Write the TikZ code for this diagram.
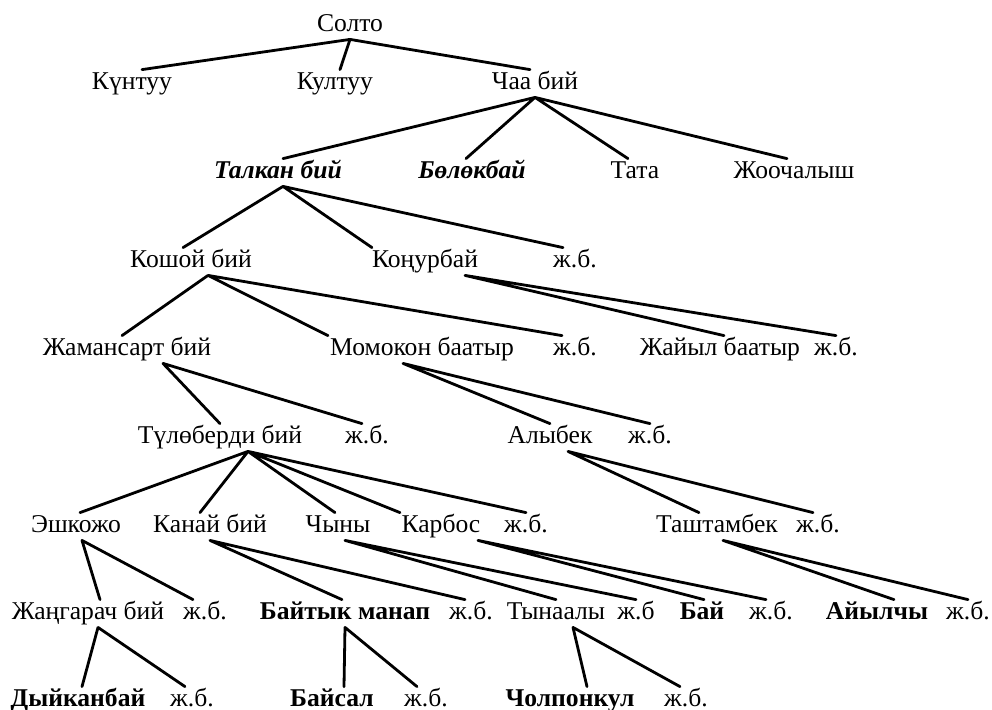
\documentclass[tikz,border=0pt]{standalone}
\usepackage{fontspec}
\setmainfont{Liberation Serif}
\begin{document}
\begin{tikzpicture}[line join=round,line cap=round,x=0.5pt,y=-0.5pt,
	font=\fontsize{12.8}{15}\selectfont,
	nm/.style={inner sep=1pt,text height=8.5pt,text depth=3pt,anchor=base},
	br/.style={line width=1.4pt}]
	\useasboundingbox (0,0) rectangle (992,709);
	% names, row by row
	\node[nm] (solto) at (350,31) {Солто};
	\node[nm] (kuntuu) at (132,89) {Күнтуу};
	\node[nm] (kultuu) at (335,89) {Култуу};
	\node[nm] (chaa) at (535,89) {Чаа бий};
	\node[nm] (talkan) at (278,178) {\bfseries\itshape Талкан бий};
	\node[nm] (bolok) at (472,178) {\bfseries\itshape Бөлөкбай};
	\node[nm] (tata) at (635,178) {Тата};
	\node[nm] (jooch) at (794,178) {Жоочалыш};
	\node[nm] (koshoi) at (191,267) {Кошой бий};
	\node[nm] (konur) at (425,267) {Коңурбай};
	\node[nm] (jb41) at (575,267) {ж.б.};
	\node[nm] (jamans) at (127,355) {Жамансарт бий};
	\node[nm] (momok) at (422,355) {Момокон баатыр};
	\node[nm] (jb51) at (575,355) {ж.б.};
	\node[nm] (jaiyl) at (720,355) {Жайыл баатыр};
	\node[nm] (jb52) at (836,355) {ж.б.};
	\node[nm] (tulob) at (220,443) {Түлөберди бий};
	\node[nm] (jb61) at (367,443) {ж.б.};
	\node[nm] (alybek) at (550,443) {Алыбек};
	\node[nm] (jb62) at (650,443) {ж.б.};
	\node[nm] (eshk) at (76,532) {Эшкожо};
	\node[nm] (kanai) at (210,532) {Канай бий};
	\node[nm] (chyny) at (338,532) {Чыны};
	\node[nm] (karbos) at (441,532) {Карбос};
	\node[nm] (jb71) at (526,532) {ж.б.};
	\node[nm] (tasht) at (717,532) {Таштамбек};
	\node[nm] (jb72) at (818,532) {ж.б.};
	\node[nm] (jangar) at (88,619) {Жаңгарач бий};
	\node[nm] (jb81) at (205,619) {ж.б.};
	\node[nm] (baityk) at (345,619) {\bfseries Байтык манап};
	\node[nm] (jb82) at (471,619) {ж.б.};
	\node[nm] (tynaaly) at (556,619) {Тынаалы};
	\node[nm] (jb83) at (636,619) {ж.б};
	\node[nm] (bai) at (702,619) {\bfseries Бай};
	\node[nm] (jb84) at (771,619) {ж.б.};
	\node[nm] (aiylchy) at (877,619) {\bfseries Айылчы};
	\node[nm] (jb85) at (968,619) {ж.б.};
	\node[nm] (dyikan) at (78,706) {\bfseries Дыйканбай};
	\node[nm] (jb91) at (192,706) {ж.б.};
	\node[nm] (baisal) at (332,706) {\bfseries Байсал};
	\node[nm] (jb92) at (426,706) {ж.б.};
	\node[nm] (cholpon) at (570,706) {\bfseries Чолпонкул};
	\node[nm] (jb93) at (686,706) {ж.б.};
	% branches
	\draw[br] (solto.south) -- ([xshift=5pt]kuntuu.north) (solto.south) -- ([xshift=2.5pt]kultuu.north) (solto.south) -- ([xshift=-2.5pt]chaa.north);
	\draw[br] (chaa.south) -- ([xshift=2.5pt]talkan.north) (chaa.south) -- ([xshift=-3pt]bolok.north) (chaa.south) -- ([xshift=-3.5pt]tata.north) (chaa.south) -- ([xshift=-3.5pt]jooch.north);
	\draw[br] ([xshift=2.5pt]talkan.south) -- ([xshift=-4pt]koshoi.north) ([xshift=2.5pt]talkan.south) -- ([xshift=-26.5pt]konur.north) ([xshift=2.5pt]talkan.south) -- ([xshift=-6pt]jb41.north);
	\draw[br] ([xshift=8.5pt]koshoi.south) -- ([xshift=-2.5pt]jamans.north) ([xshift=8.5pt]koshoi.south) -- ([xshift=-47pt]momok.north) ([xshift=8.5pt]koshoi.south) -- ([xshift=-6.5pt]jb51.north);
	\draw[br] ([xshift=20pt]konur.south) -- ([xshift=2pt]jaiyl.north) ([xshift=20pt]konur.south) -- (jb52.north);
	\draw[br] ([xshift=18pt]jamans.south) -- (tulob.north) ([xshift=18pt]jamans.south) -- ([xshift=-2.5pt]jb61.north);
	\draw[br] ([xshift=-9.5pt]momok.south) -- (alybek.north) ([xshift=-9.5pt]momok.south) -- (jb62.north);
	\draw[br] ([xshift=14pt]tulob.south) -- ([xshift=2pt]eshk.north) ([xshift=14pt]tulob.south) -- ([xshift=-5pt]kanai.north) ([xshift=14pt]tulob.south) -- ([xshift=-1.5pt]chyny.north) ([xshift=14pt]tulob.south) -- ([xshift=-20.5pt]karbos.north) ([xshift=14pt]tulob.south) -- (jb71.north);
	\draw[br] ([xshift=9pt]alybek.south) -- ([xshift=-9pt]tasht.north) ([xshift=9pt]alybek.south) -- ([xshift=-2.5pt]jb72.north);
	\draw[br] ([xshift=3pt]eshk.south) -- ([xshift=6pt]jangar.north) ([xshift=3pt]eshk.south) -- ([xshift=-6pt]jb81.north);
	\draw[br] (kanai.south) -- ([xshift=-1.5pt]baityk.north) (kanai.south) -- ([xshift=-3pt]jb82.north);
	\draw[br] ([xshift=3.5pt]chyny.south) -- (tynaaly.north) ([xshift=3.5pt]chyny.south) -- (jb83.north);
	\draw[br] ([xshift=18.5pt]karbos.south) -- ([xshift=1pt]bai.north) ([xshift=18.5pt]karbos.south) -- ([xshift=-2.5pt]jb84.north);
	\draw[br] ([xshift=3pt]tasht.south) -- ([xshift=8.5pt]aiylchy.north) ([xshift=3pt]tasht.south) -- (jb85.north);
	\draw[br] ([xshift=5pt]jangar.south) -- ([xshift=2pt]dyikan.north) ([xshift=5pt]jangar.south) -- ([xshift=-3.5pt]jb91.north);
	\draw[br] (baityk.south) -- ([xshift=6pt]baisal.north) (baityk.south) -- ([xshift=-4.5pt]jb92.north);
	\draw[br] ([xshift=8.5pt]tynaaly.south) -- ([xshift=8.5pt]cholpon.north) ([xshift=8.5pt]tynaaly.south) -- ([xshift=-3pt]jb93.north);
\end{tikzpicture}
\end{document}
